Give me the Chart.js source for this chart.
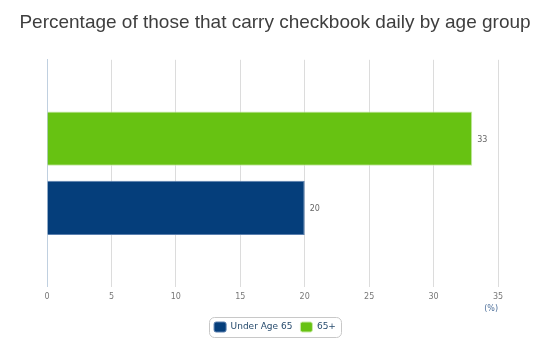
<!DOCTYPE html>
<html>
<head>
<meta charset="utf-8">
<script src="https://cdn.jsdelivr.net/npm/chart.js@4/dist/chart.umd.min.js"></script>
<style>
  html, body { margin: 0; padding: 0; background: #fff; }
  #wrap { width: 550px; height: 364px; }
</style>
</head>
<body>
<div id="wrap"><canvas id="chart_one"></canvas></div>
<script>
// Data
const categories = ['Carry checkbook daily']
const under_age_65 = [20]
const age_65_plus = [33]
const axis_min = 0
const axis_max = 35
const axis_step = 5

// draws the value next to the end of each bar
const valueLabels = {
    id: 'valueLabels',
    afterDatasetsDraw(chart) {
        const ctx = chart.ctx
        ctx.save()
        ctx.font = '8px "DejaVu Sans"'
        ctx.fillStyle = '#666'
        ctx.textBaseline = 'middle'
        chart.data.datasets.forEach((ds, i) => {
            chart.getDatasetMeta(i).data.forEach((bar, j) => {
                ctx.fillText(ds.data[j] + '', bar.x + 5, bar.y + 1)
            })
        })
        ctx.restore()
    }
}

// rounded frame around the legend items
const legendFrame = {
    id: 'legendFrame',
    afterDraw(chart) {
        const boxes = chart.legend.legendHitBoxes
        if (!boxes || !boxes.length) return
        let l = Math.min(...boxes.map(b => b.left)) - 5
        let r = Math.max(...boxes.map(b => b.left + b.width)) + 5
        let t = Math.min(...boxes.map(b => b.top)) - 5
        let bt = Math.max(...boxes.map(b => b.top + b.height)) + 5
        const ctx = chart.ctx
        ctx.save()
        ctx.strokeStyle = '#c8c8c8'
        ctx.lineWidth = 1
        ctx.beginPath()
        ctx.roundRect(Math.round(l) + 0.5, Math.round(t) + 0.5, Math.round(r - l), Math.round(bt - t), 5)
        ctx.stroke()
        ctx.restore()
    }
}

const ctx_one = document.getElementById('chart_one')

new Chart(ctx_one, {
    type: 'bar',
    data: {
        labels: categories,
        datasets: [
            {
                label: 'Under Age 65',
                data: under_age_65,
                backgroundColor: '#053e7b',
                borderColor: '#5a7fae',
                borderWidth: 1,
                order: 1
            },
            {
                label: '65+',
                data: age_65_plus,
                backgroundColor: '#67c212',
                borderColor: '#c8eaa6',
                borderWidth: 1,
                order: 0
            }
        ]
    },
    options: {
        indexAxis: 'y',
        responsive: true,
        maintainAspectRatio: false,
        animation: false,
        categoryPercentage: 0.61,
        barPercentage: 0.785,
        layout: { padding: { left: 0, right: 0, top: 0, bottom: 22 } },
        scales: {
            x: {
                min: axis_min,
                max: axis_max,
                ticks: {
                    stepSize: axis_step,
                    color: '#777',
                    font: { family: 'DejaVu Sans', size: 8 },
                    padding: 5
                },
                grid: { color: '#dcdcdc', drawTicks: false },
                border: { display: false },
                title: {
                    display: true,
                    text: '(%)',
                    align: 'end',
                    color: '#4d6f9a',
                    font: { family: 'DejaVu Sans', size: 8 },
                    padding: { top: -2, bottom: 0 }
                }
            },
            y: {
                ticks: { display: false },
                grid: { display: false, drawTicks: false },
                border: { display: true, color: '#c0d0e0', width: 1 },
                afterFit: s => { s.width = 47 }
            },
            // empty scale on the right, only to keep room at the right side
            yRight: {
                type: 'linear',
                position: 'right',
                ticks: { display: false },
                grid: { display: false, drawTicks: false },
                border: { display: false },
                afterFit: s => { s.width = 52 }
            }
        },
        plugins: {
            title: {
                display: true,
                text: 'Percentage of those that carry checkbook daily by age group',
                color: '#3e3e3e',
                font: { family: 'Liberation Sans', size: 19, weight: 'normal' },
                padding: { top: 11, bottom: 26 }
            },
            legend: {
                position: 'bottom',
                labels: {
                    boxWidth: 12,
                    boxHeight: 10,
                    useBorderRadius: true,
                    borderRadius: 2,
                    color: '#274b6d',
                    font: { family: 'DejaVu Sans', size: 9 },
                    padding: 8,
                    sort: (a, b) => a.datasetIndex - b.datasetIndex
                }
            },
            tooltip: { enabled: false }
        }
    },
    plugins: [valueLabels, legendFrame]
})
</script>
</body>
</html>
